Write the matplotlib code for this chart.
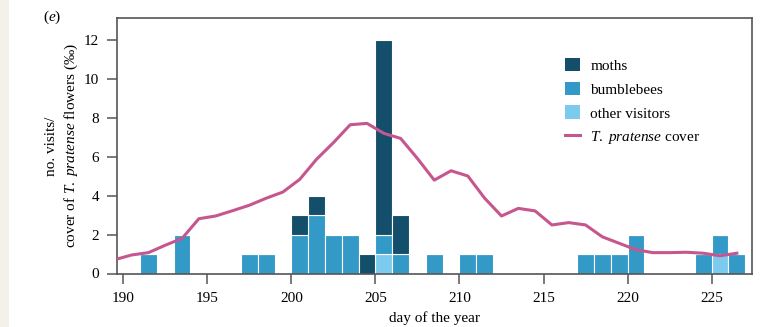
#!/usr/bin/env python3
"""Flower visits per day (stacked bars) with T. pratense cover line."""
import matplotlib
matplotlib.use("Agg")
import matplotlib.pyplot as plt
from matplotlib.patches import Patch, Rectangle
from matplotlib.lines import Line2D

# visit counts per day (bars span [day, day + 1])
days = [191, 193, 197, 198, 200, 201, 202, 203, 204, 205, 206,
        208, 210, 211, 217, 218, 219, 220, 224, 225, 226]
other = [0, 0, 0, 0, 0, 0, 0, 0, 0, 1, 0,
         0, 0, 0, 0, 0, 0, 0, 0, 1, 0]
bumblebees = [1, 2, 1, 1, 2, 3, 2, 2, 0, 1, 1,
              1, 1, 1, 1, 1, 1, 2, 1, 1, 1]
moths = [0, 0, 0, 0, 1, 1, 0, 0, 1, 10, 2,
         0, 0, 0, 0, 0, 0, 0, 0, 0, 0]

# T. pratense cover (per mille), one value per day, drawn at the day centre
cover_days = [189, 190, 191, 192, 193, 194, 195, 196, 197, 198,
              199, 200, 201, 202, 203, 204, 205, 206, 207, 208,
              209, 210, 211, 212, 213, 214, 215, 216, 217, 218,
              219, 220, 221, 222, 223, 224, 225, 226]
cover = [0.71, 0.95, 1.07, 1.45, 1.80, 2.81, 2.95, 3.22, 3.50, 3.86,
         4.18, 4.83, 5.86, 6.71, 7.63, 7.70, 7.19, 6.93, 5.90, 4.79,
         5.27, 5.00, 3.86, 2.95, 3.34, 3.21, 2.49, 2.61, 2.49, 1.88,
         1.55, 1.22, 1.07, 1.07, 1.09, 1.04, 0.91, 1.04]

MOTH = "#134e6a"
BEE = "#3399c7"
OTHER = "#7ccbef"
COVER = "#c6568e"
SPINE = "#555555"

plt.rcParams["font.family"] = ["Liberation Serif", "DejaVu Serif"]
plt.rcParams["mathtext.fontset"] = "custom"
plt.rcParams["mathtext.rm"] = "Liberation Serif"
plt.rcParams["mathtext.it"] = "Liberation Serif:italic"

fig = plt.figure(figsize=(7.63, 3.27), dpi=100)
fig.patches.append(Rectangle((0, 0), 9 / 763, 1, transform=fig.transFigure,
                             facecolor="#f4f0ea", edgecolor="none", zorder=-1))
ax = fig.add_axes([117 / 763, 1 - 273.5 / 327, 635 / 763, 255.2 / 327])

bar_kw = dict(width=1.0, align="edge", edgecolor="white", linewidth=0.8)
ax.bar(days, other, color=OTHER, **bar_kw)
ax.bar(days, bumblebees, bottom=other, color=BEE, **bar_kw)
base = [o + b for o, b in zip(other, bumblebees)]
ax.bar(days, moths, bottom=base, color=MOTH, **bar_kw)

ax.plot([d + 0.5 for d in cover_days], cover, color=COVER, lw=2.2,
        solid_joinstyle="round", zorder=3)

ax.set_xlim(189.63, 227.4)
ax.set_ylim(0, 13.09)
ax.set_xticks(range(190, 226, 5))
ax.set_yticks(range(0, 13, 2))
for s in ax.spines.values():
    s.set_color(SPINE)
    s.set_linewidth(1.2)
ax.tick_params(direction="out", length=7, width=1.1, color=SPINE,
               labelsize=11, pad=6)

ax.set_xlabel("day of the year", fontsize=11, labelpad=5)
ax.set_ylabel("no. visits/\ncover of $\\mathit{T.\\ pratense}$ flowers (‰)",
              fontsize=11, labelpad=3, linespacing=1.35)

fig.text(43 / 763, 1 - 17 / 327, "($\\mathit{e}$)", fontsize=11,
         ha="left", va="center")

handles = [Patch(facecolor=MOTH, edgecolor="none"),
           Patch(facecolor=BEE, edgecolor="none"),
           Patch(facecolor=OTHER, edgecolor="none"),
           Line2D([], [], color=COVER, lw=2.2)]
labels = ["moths", "bumblebees", "other visitors",
          "$\\mathit{T.\\ pratense}$ cover"]
ax.legend(handles, labels, loc="upper left", bbox_to_anchor=(0.7055, 0.846),
          frameon=False, fontsize=11, handlelength=1.0, handleheight=1.0,
          handletextpad=0.65, labelspacing=0.58, borderpad=0, borderaxespad=0)

fig.savefig("out.png", dpi=100)
